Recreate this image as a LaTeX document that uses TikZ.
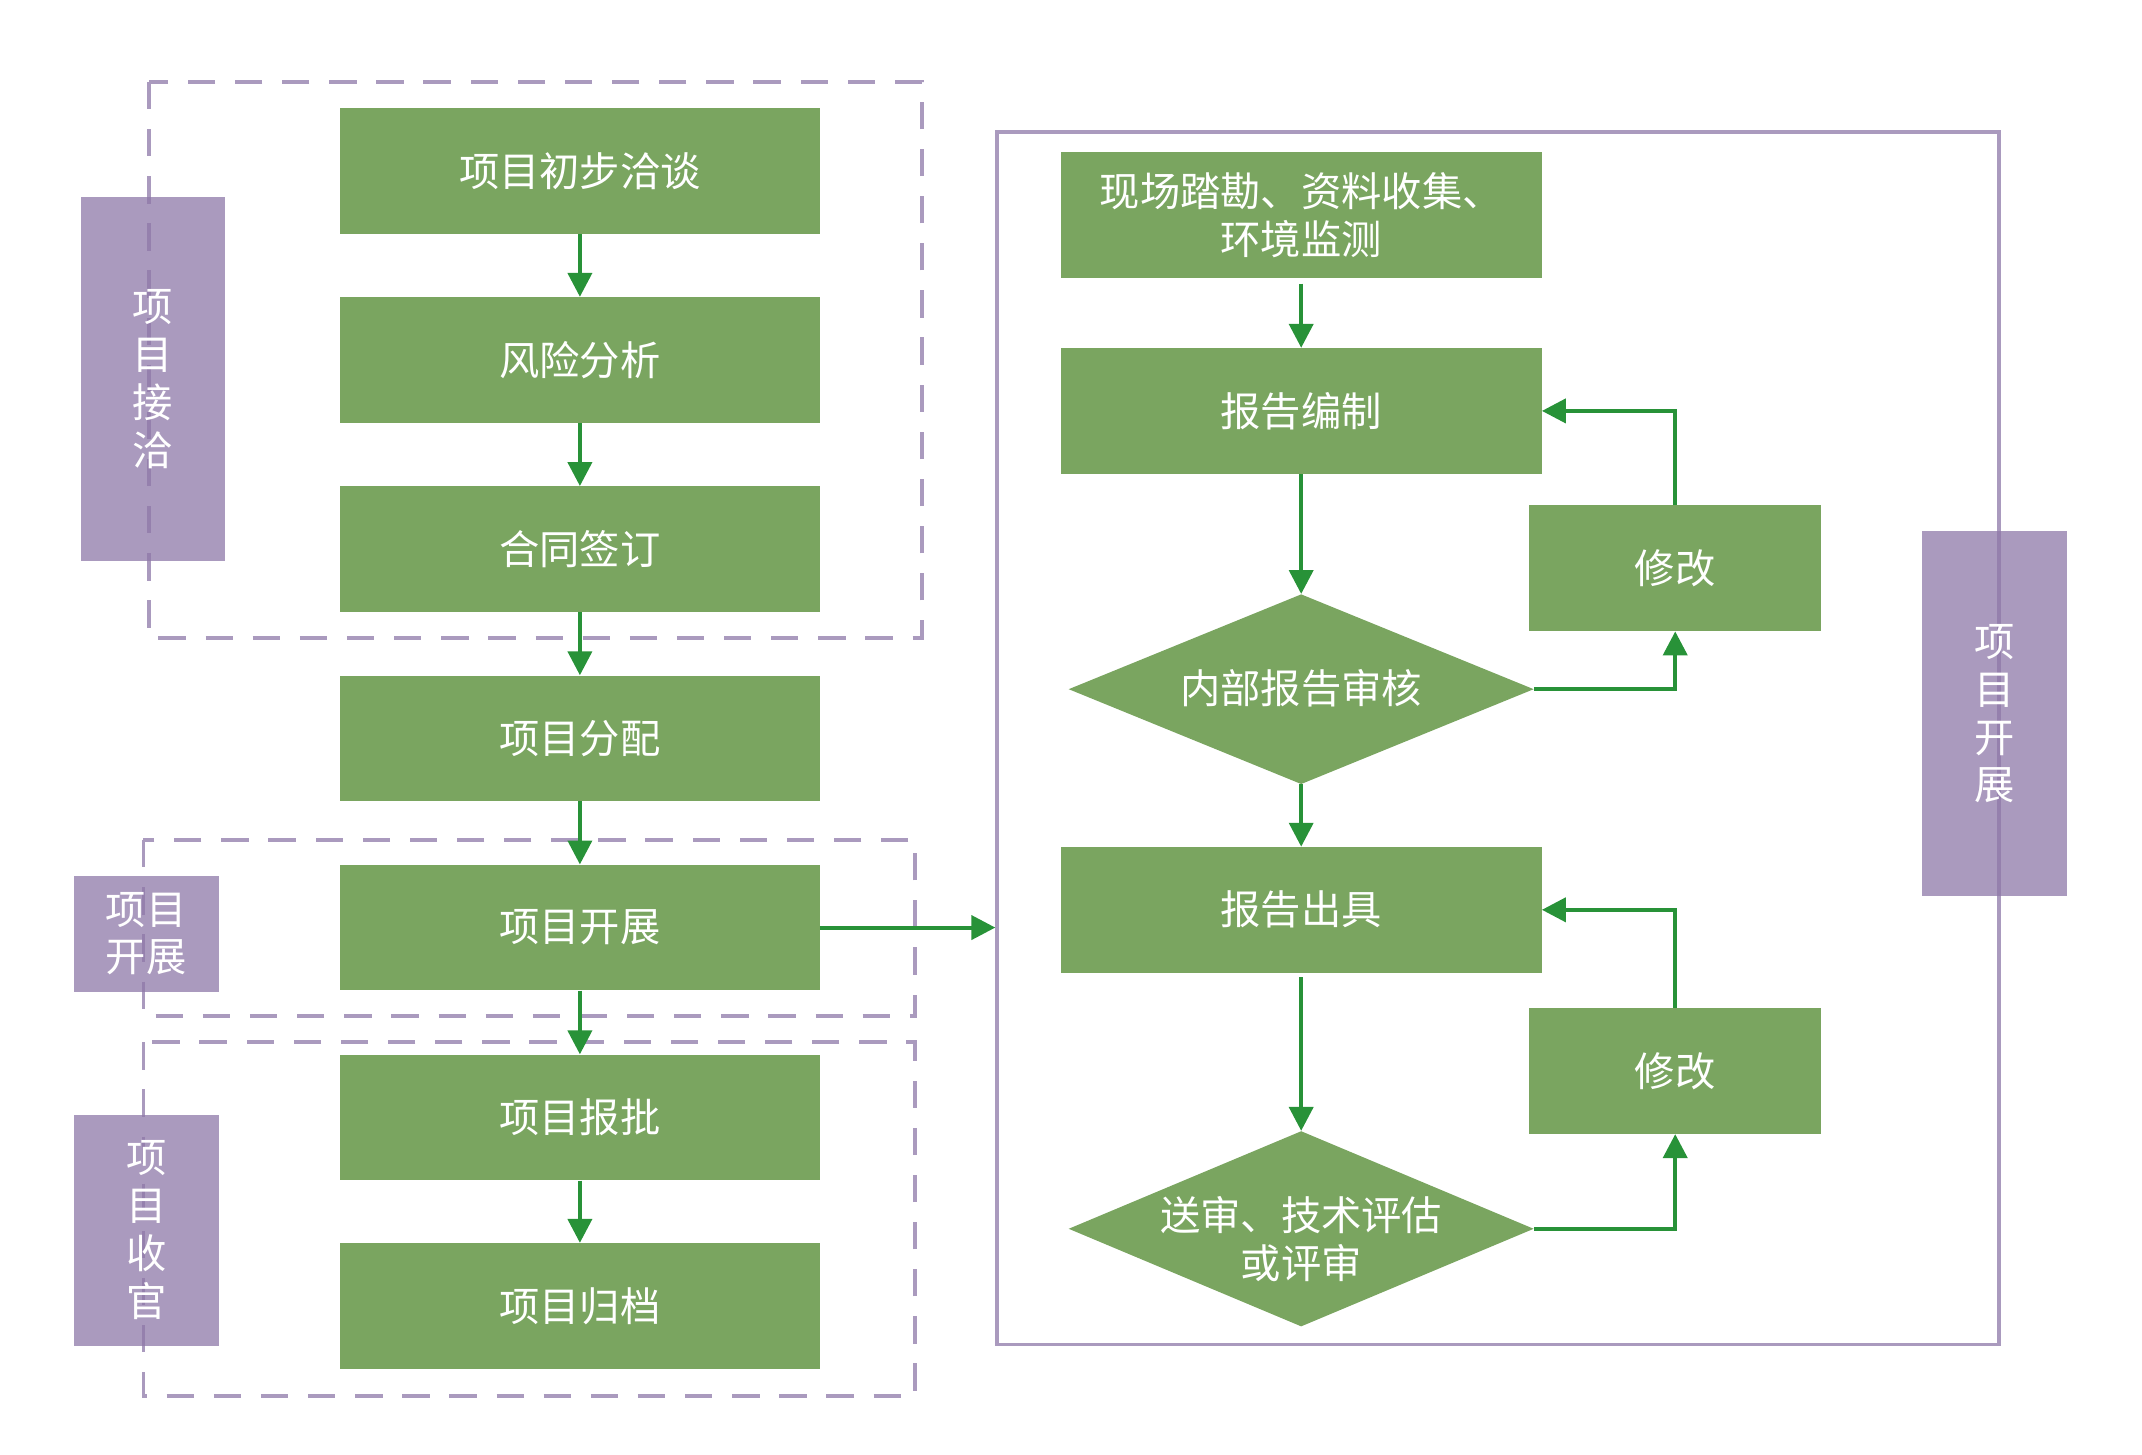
\documentclass[tikz,border=0pt]{standalone}
\usepackage{fontspec}
\setmainfont{Noto Sans CJK SC}
\usetikzlibrary{arrows.meta,shapes.geometric}
\definecolor{gfill}{RGB}{122,165,96}
\definecolor{garrow}{RGB}{40,146,56}
\definecolor{pline}{RGB}{170,154,190}
\definecolor{pfill}{RGB}{142,120,168}
\begin{document}
\begin{tikzpicture}[x=1pt,y=-1pt,
  txt/.style={font=\fontsize{29.5}{35}\selectfont, text=white, align=center},
  gbox/.style={txt, rectangle, fill=gfill, inner sep=0pt, minimum width=351pt, minimum height=92pt},
  rbox/.style={txt, rectangle, fill=gfill, inner sep=0pt, minimum width=352pt, minimum height=92pt},
  mbox/.style={txt, rectangle, fill=gfill, inner sep=0pt, minimum width=213.5pt, minimum height=92pt},
  dbox/.style={diamond, fill=gfill, inner sep=0pt, minimum width=340.5pt},
  plabel/.style={txt, rectangle, fill=pfill, fill opacity=0.75, text opacity=1, inner sep=0pt, minimum width=106pt},
  dashbox/.style={draw=pline, line width=2.8pt, dash pattern=on 20pt off 14.5pt},
  arr/.style={draw=garrow, line width=3pt, line join=miter, -{Triangle[length=17.5pt,width=17.5pt]}}
]
\useasboundingbox (0,0) rectangle (1568,1065);

% dashed groups
\draw[dashbox] (109,60) rectangle (675,467);
\draw[dashbox] (105,615) rectangle (670,744);
\draw[dashbox] (105,763) rectangle (670,1022);

% right panel
\node[draw=pline, line width=2.8pt, rectangle, inner sep=0pt, minimum width=733pt, minimum height=887.5pt] (panel) at (1096.5,540.5) {};

% purple labels
\node[plabel, minimum height=267pt] (l1) at (112,277.5) {项\\目\\接\\洽};
\node[plabel, minimum height=85pt] (l2) at (107,683.5) {项目\\开展};
\node[plabel, minimum height=169pt] (l3) at (107,900.5) {项\\目\\收\\官};
\node[plabel, minimum height=267pt] (l4) at (1460,522.5) {项\\目\\开\\展};

% left column
\node[gbox] (b1) at (424.5,125) {项目初步洽谈};
\node[gbox] (b2) at (424.5,263.5) {风险分析};
\node[gbox] (b3) at (424.5,402) {合同签订};
\node[gbox] (b4) at (424.5,540.5) {项目分配};
\node[gbox] (b5) at (424.5,679) {项目开展};
\node[gbox] (b6) at (424.5,818) {项目报批};
\node[gbox] (b7) at (424.5,956) {项目归档};

% right column
\node[rbox] (r1) at (952.5,157.5) {现场踏勘、资料收集、\\环境监测};
\node[rbox] (r2) at (952.5,300.8) {报告编制};
\node[dbox, minimum height=139pt] (d1) at (952.5,504.5) {};
\node[txt] (d1t) at (952.5,504) {内部报告审核};
\node[mbox] (r3) at (1226.3,416) {修改};
\node[rbox] (r4) at (952.5,666) {报告出具};
\node[dbox, minimum height=143pt] (d2) at (952.5,899.5) {};
\node[txt] (d2t) at (952.5,907) {送审、技术评估\\或评审};
\node[mbox] (r5) at (1226.3,784) {修改};

% arrows left
\draw[arr] (b1.south) -- (b2.north);
\draw[arr] (b2.south) -- (b3.north);
\draw[arr] (b3.south) -- (b4.north);
\draw[arr] (b4.south) -- (b5.north);
\draw[arr] (b5.south) -- (b6.north);
\draw[arr] (b6.south) -- (b7.north);
\draw[arr] (b5.east) -- (b5.east -| panel.west);

% arrows right
\draw[arr, shorten <=4pt] (r1.south) -- (r2.north);
\draw[arr] (r2.south) -- (d1.north);
\draw[arr] (d1.east) -| (r3.south);
\draw[arr] (r3.north) |- (r2.east);
\draw[arr] (d1.south) -- (r4.north);
\draw[arr, shorten <=3pt] (r4.south) -- (d2.north);
\draw[arr] (d2.east) -| (r5.south);
\draw[arr] (r5.north) |- (r4.east);
\end{tikzpicture}
\end{document}
